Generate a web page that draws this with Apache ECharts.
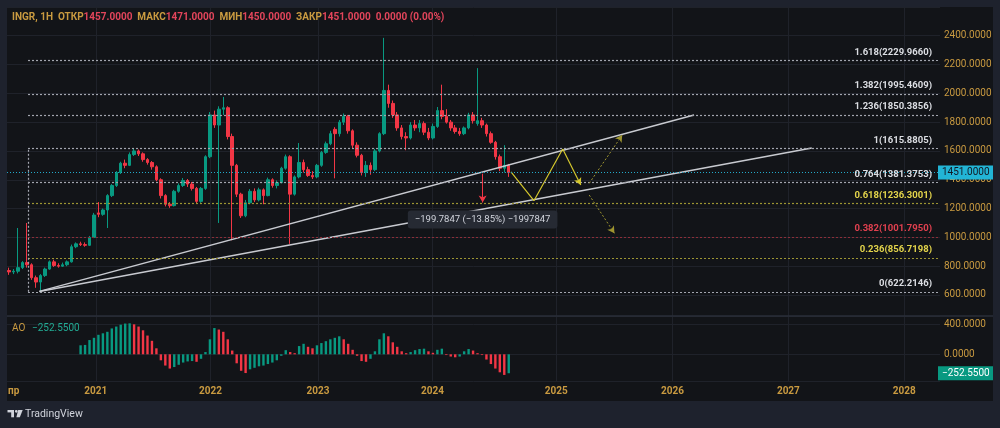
<!DOCTYPE html>
<html>
<head>
<meta charset="utf-8">
<title>INGR 1H</title>
<script src="https://cdn.jsdelivr.net/npm/echarts@6.0.0/dist/echarts.min.js"></script>
<style>
html, body { margin: 0; padding: 0; background: #1e222d; }
#chart { width: 1000px; height: 428px; }
</style>
</head>
<body>
<div id="chart"></div>
<script>
// bars, one every two weeks: [open, close, low, high]
var ohlc = [
  [770, 760, 740, 790], [760, 765, 745, 780], [765, 790, 750, 1065], [790, 825, 780, 835],
  [825, 810, 790, 1100], [810, 720, 705, 820], [720, 690, 650, 735], [690, 735, 622, 745],
  [735, 780, 725, 790], [780, 830, 775, 840], [830, 805, 795, 845], [805, 800, 790, 820],
  [800, 810, 795, 825], [810, 830, 800, 840], [830, 935, 825, 950], [935, 955, 925, 965],
  [955, 950, 940, 970], [950, 945, 935, 965], [945, 1000, 940, 1010], [1000, 1155, 995, 1170],
  [1170, 1160, 1140, 1245], [1160, 1190, 1150, 1200], [1190, 1290, 1065, 1300], [1290, 1360, 1280, 1370],
  [1360, 1450, 1350, 1460], [1450, 1515, 1440, 1525], [1515, 1500, 1480, 1540], [1500, 1575, 1495, 1590],
  [1575, 1600, 1565, 1616], [1600, 1580, 1565, 1610], [1580, 1540, 1525, 1590], [1540, 1520, 1505, 1550],
  [1520, 1490, 1470, 1530], [1490, 1400, 1390, 1500], [1400, 1290, 1270, 1410], [1290, 1230, 1215, 1300],
  [1230, 1220, 1205, 1245], [1220, 1320, 1215, 1330], [1320, 1360, 1310, 1375], [1360, 1395, 1350, 1412],
  [1395, 1370, 1350, 1405], [1370, 1340, 1325, 1385], [1340, 1250, 1235, 1350], [1250, 1340, 1240, 1350],
  [1340, 1560, 1330, 1570], [1560, 1850, 1550, 1870], [1850, 1780, 1760, 1880], [1780, 1890, 1100, 1910],
  [1890, 1900, 1850, 1975], [1900, 1700, 1680, 1910], [1700, 1500, 980, 1720], [1500, 1300, 1280, 1510],
  [1300, 1150, 1135, 1310], [1150, 1240, 1140, 1260], [1240, 1320, 1230, 1335], [1320, 1260, 1245, 1340],
  [1260, 1330, 1250, 1345], [1330, 1290, 1230, 1340], [1290, 1400, 1285, 1415], [1400, 1360, 1345, 1410],
  [1360, 1380, 1340, 1395], [1380, 1480, 1375, 1490], [1480, 1560, 1470, 1575], [1560, 1300, 955, 1570],
  [1300, 1420, 1290, 1430], [1420, 1520, 1410, 1655], [1520, 1470, 1450, 1540], [1470, 1430, 1420, 1490],
  [1430, 1420, 1405, 1460], [1420, 1500, 1410, 1510], [1500, 1590, 1490, 1600], [1590, 1650, 1580, 1665],
  [1650, 1720, 1640, 1740], [1750, 1720, 1410, 1765], [1720, 1800, 1700, 1815], [1800, 1840, 1780, 1860],
  [1840, 1740, 1720, 1850], [1740, 1640, 1620, 1750], [1640, 1570, 1555, 1660], [1570, 1450, 1430, 1580],
  [1450, 1500, 1420, 1530], [1500, 1470, 1435, 1520], [1470, 1600, 1460, 1615], [1600, 1720, 1590, 1730],
  [1720, 2020, 1710, 2385], [2020, 1930, 1900, 2060], [1930, 1850, 1830, 1950], [1850, 1760, 1740, 1870],
  [1760, 1700, 1680, 1780], [1700, 1690, 1605, 1730], [1690, 1780, 1680, 1800], [1780, 1760, 1740, 1815],
  [1760, 1790, 1730, 1815], [1790, 1730, 1710, 1805], [1730, 1690, 1675, 1760], [1690, 1770, 1680, 1790],
  [1770, 1880, 1760, 1905], [1880, 1840, 1820, 2060], [1840, 1800, 1790, 1890], [1800, 1760, 1740, 1815],
  [1760, 1735, 1720, 1780], [1735, 1720, 1705, 1760], [1720, 1760, 1710, 1770], [1760, 1850, 1750, 1865],
  [1850, 1810, 1790, 1870], [1790, 1810, 1775, 2175], [1810, 1780, 1760, 1830], [1780, 1720, 1700, 1790],
  [1720, 1660, 1650, 1735], [1660, 1560, 1540, 1670], [1560, 1480, 1460, 1575], [1480, 1500, 1450, 1640],
  [1500, 1451, 1420, 1510]
];

// awesome oscillator, starts at bar 16
var aoFirstBar = 16;
var aoValues = [
  120, 125, 190, 220, 260, 280, 300, 345, 370, 395,
  410, 413, 400, 370, 320, 250, 180, 80, -80, -150,
  -190, -170, -140, -110, -95, -90, -100, -60, 30, 200,
  350, 330, 300, 200, 50, -120, -220, -250, -200, -180,
  -160, -150, -130, -110, -80, -20, 55, 30, 15, 110,
  140, 100, 80, 120, 150, 175, 200, 220, 240, 200,
  140, 60, -20, -90, -100, -60, 40, 200, 280, 240,
  160, 100, 40, 15, 30, 55, 70, 75, 40, 20,
  60, 75, -10, -30, -40, -30, 40, 70, 50, 15,
  -10, -70, -130, -190, -240, -275, -252.55
];

// x unit = weeks from the first bar
var yearTicks = [38.8, 90.3, 138.5, 189.8, 245.3, 297.4, 349.4, 401.4];
var yearLabels = ['2021', '2022', '2023', '2024', '2025', '2026', '2027', '2028'];

var fibRatios = ['0', '0.236', '0.382', '0.618', '0.764', '1', '1.236', '1.382', '1.618'];
var fibValues = [622.2146, 856.7198, 1001.7950, 1236.3001, 1381.3753, 1615.8805, 1850.3856, 1995.4609, 2229.9660];
var fibFrom = 8.42, fibTo = 416.5;

var lastPrice = 1451;
var lastAO = -252.55;
var legendKeys = ['ОТКР', 'МАКС', 'МИН', 'ЗАКР'];
var legendVals = ['1457.0000', '1471.0000', '1450.0000', '1451.0000'];

// drawings
var trendUpper = [[13.5, 625], [307.1, 1849.6]];
var trendLower = [[13.5, 625], [359.9, 1620.5]];
var projection = [[225, 1455], [235.3, 1254.6], [248.2, 1613.5], [256.3, 1363.6]];
var projUp = [[260.1, 1375.4], [274.9, 1710.7]];
var projDown = [[260.1, 1294], [271.4, 1028.3]];
var rangeArrow = [[212.3, 1442], [212.3, 1242.2]];
var rangeText = '−199.7847 (−13.85%) −1997847';

var GOLD = '#c99a40';
var UP = '#089981', DOWN = '#f23645';
var GRIDC = '#1f222a';
var FONT = 'Roboto, sans-serif';

var candles = ohlc.map(function (r, i) { return [i * 2, r[0], r[1], r[2], r[3]]; });

var aoBars = aoValues.map(function (v, k) {
  var up = k === 0 || v >= aoValues[k - 1];
  return { value: [(aoFirstBar + k) * 2, v], itemStyle: { color: up ? UP : DOWN } };
});

function fibColor(r) {
  if (r === '0.618' || r === '0.236') return { line: '#9c9533', text: '#e3d44b' };
  if (r === '0.382') return { line: '#8c2f39', text: '#e0404f' };
  return { line: '#a3a6af', text: '#dcdee3' };
}

var fibLines = fibRatios.map(function (r, i) {
  var c = fibColor(r);
  return [{
    coord: [fibFrom, fibValues[i]],
    lineStyle: { color: c.line, type: [2, 2], width: 1.2 },
    label: {
      show: true, position: 'insideEndTop', distance: [6, 3],
      formatter: r + '(' + fibValues[i].toFixed(4) + ')',
      color: c.text, fontSize: 9.5, fontWeight: 'bold', fontFamily: FONT
    }
  }, { coord: [fibTo, fibValues[i]] }];
});
fibLines.push([{
  coord: [fibFrom, fibValues[0]],
  lineStyle: { color: '#a3a6af', type: [2, 2], width: 1.2 },
  label: { show: false }
}, { coord: [fibFrom, fibValues[5]] }]);

var legendText = '{g|INGR, 1H}';
legendKeys.forEach(function (k, i) {
  legendText += '{g|  ' + k + '}{r|' + legendVals[i] + '}';
});
legendText += '{r|  0.0000 (0.00%)}';

function nearestYear(v) {
  var best = 0;
  yearTicks.forEach(function (t, i) { if (Math.abs(t - v) < Math.abs(yearTicks[best] - v)) best = i; });
  return yearLabels[best];
}

var xCommon = {
  type: 'value', min: -1, max: 417.4,
  axisLine: { show: false },
  axisTick: { show: false, customValues: yearTicks },
  splitLine: { show: true, lineStyle: { color: GRIDC, width: 1 } }
};

var chart = echarts.init(document.getElementById('chart'));
chart.setOption({
  animation: false,
  backgroundColor: '#121418',
  title: {
    left: 12, top: 12, padding: 0,
    text: legendText,
    textStyle: {
      fontSize: 10, fontFamily: FONT,
      rich: {
        g: { color: GOLD, fontSize: 10, fontFamily: FONT },
        r: { color: '#e2455b', fontSize: 10, fontFamily: FONT }
      }
    }
  },
  grid: [
    { left: 7, right: 60, top: 7, height: 309, outerBoundsMode: 'none' },
    { left: 7, right: 60, top: 316, height: 65, outerBoundsMode: 'none' }
  ],
  xAxis: [
    Object.assign({ gridIndex: 0, axisLabel: { show: false } }, xCommon),
    Object.assign({
      gridIndex: 1,
      axisLabel: {
        show: true, customValues: yearTicks, margin: 5,
        color: GOLD, fontSize: 10, fontWeight: 'bold', fontFamily: FONT,
        formatter: nearestYear
      }
    }, xCommon)
  ],
  yAxis: [{
    gridIndex: 0, type: 'value', position: 'right',
    min: 454.2, max: 2599.3, splitNumber: 10, minInterval: 200, maxInterval: 200,
    axisLine: { show: false }, axisTick: { show: false },
    axisLabel: {
      margin: 4, color: GOLD, fontSize: 10, fontFamily: FONT,
      formatter: function (v) { return Math.abs(v % 200) < 1e-6 ? v.toFixed(4) : ''; }
    },
    splitLine: { lineStyle: { color: GRIDC } }
  }, {
    gridIndex: 1, type: 'value', position: 'right',
    min: -356, max: 510.7, splitNumber: 2, minInterval: 400, maxInterval: 400,
    axisLine: { show: false }, axisTick: { show: false },
    axisLabel: {
      margin: 4, color: GOLD, fontSize: 10, fontFamily: FONT,
      formatter: function (v) { return Math.abs(v % 400) < 1e-6 ? v.toFixed(4) : ''; }
    },
    splitLine: { lineStyle: { color: GRIDC } }
  }],
  series: [{
    name: 'INGR', type: 'candlestick', xAxisIndex: 0, yAxisIndex: 0,
    data: candles, encode: { x: 0, y: [1, 2, 3, 4] }, barWidth: 3,
    itemStyle: { color: UP, color0: DOWN, borderColor: UP, borderColor0: DOWN, borderWidth: 1 },
    markLine: {
      silent: true, symbol: 'none', animation: false,
      data: [{
        yAxis: lastPrice,
        lineStyle: { color: '#23a9c9', type: [1, 2], width: 1 },
        label: {
          show: true, position: 'end', distance: -2,
          formatter: lastPrice.toFixed(4),
          backgroundColor: '#22b5d6', color: '#131722', padding: [2, 4],
          fontSize: 10, fontFamily: FONT
        }
      }]
    }
  }, {
    name: 'fib', type: 'line', data: [], xAxisIndex: 0, yAxisIndex: 0,
    markLine: { silent: true, symbol: 'none', animation: false, data: fibLines }
  }, {
    name: 'trendUpper', type: 'line', data: trendUpper, symbol: 'none',
    lineStyle: { color: '#c8cad0', width: 1.5 }
  }, {
    name: 'trendLower', type: 'line', data: trendLower, symbol: 'none',
    lineStyle: { color: '#c8cad0', width: 1.5 }
  }, {
    name: 'projection', type: 'line', data: projection.slice(0, 3), symbol: 'none',
    lineStyle: { color: '#d4c72d', width: 1.2 }
  }, {
    name: 'arrows', type: 'line', data: [],
    markLine: {
      silent: true, symbol: ['none', 'arrow'], symbolSize: [6, 7], animation: false,
      label: { show: false },
      data: [
        [{ coord: projection[2], lineStyle: { color: '#d4c72d', width: 1.2, type: 'solid' } }, { coord: projection[3] }],
        [{ coord: projUp[0], lineStyle: { color: '#9e9530', width: 1, type: [2, 2] } }, { coord: projUp[1] }],
        [{ coord: projDown[0], lineStyle: { color: '#9e9530', width: 1, type: [2, 2] } }, { coord: projDown[1] }],
        [{ coord: rangeArrow[0], lineStyle: { color: DOWN, width: 1, type: 'solid' } }, { coord: rangeArrow[1] }]
      ]
    },
    markPoint: {
      silent: true, symbol: 'rect', symbolSize: 0, animation: false,
      data: [{
        coord: rangeArrow[1],
        label: {
          show: true, position: 'inside', offset: [0, 17],
          formatter: rangeText,
          backgroundColor: '#262a33', borderRadius: 3, padding: [4, 7],
          color: '#d1d4dc', fontSize: 9.5, fontFamily: FONT
        }
      }]
    }
  }, {
    name: 'AO', type: 'bar', xAxisIndex: 1, yAxisIndex: 1,
    data: aoBars, barWidth: 2.4,
    markLine: {
      silent: true, symbol: 'none', animation: false,
      data: [{
        yAxis: lastAO,
        lineStyle: { color: 'rgba(0,0,0,0)' },
        label: {
          show: true, position: 'end', distance: -2,
          formatter: '−' + Math.abs(lastAO).toFixed(4),
          backgroundColor: UP, color: '#ffffff', padding: [2, 4],
          fontSize: 10, fontFamily: FONT
        }
      }]
    }
  }],
  graphic: [
    { type: 'rect', z: 100, shape: { x: 0, y: 0, width: 7, height: 428 }, style: { fill: '#1e222d' } },
    { type: 'rect', z: 100, shape: { x: 0, y: 0, width: 1000, height: 7 }, style: { fill: '#1e222d' } },
    { type: 'rect', z: 100, shape: { x: 993, y: 0, width: 7, height: 428 }, style: { fill: '#1e222d' } },
    { type: 'rect', z: 100, shape: { x: 0, y: 401, width: 1000, height: 27 }, style: { fill: '#1e222d' } },
    { type: 'line', z: 100, shape: { x1: 7, y1: 316, x2: 993, y2: 316 }, style: { stroke: '#2a2e39', lineWidth: 1.5 } },
    {
      type: 'text', z: 100, x: 12, y: 328,
      style: {
        text: '{g|AO}  {t|−252.5500}', verticalAlign: 'middle',
        rich: {
          g: { fill: GOLD, fontSize: 10, fontFamily: FONT },
          t: { fill: '#22ab94', fontSize: 10, fontFamily: FONT }
        }
      }
    },
    { type: 'text', z: 100, x: 8, y: 391, style: { text: 'пр', fill: GOLD, font: 'bold 10px Roboto', verticalAlign: 'middle' } },
    { type: 'rect', z: 101, shape: { x: 7.5, y: 410, width: 6.5, height: 2.4 }, style: { fill: '#d1d4dc' } },
    { type: 'rect', z: 101, shape: { x: 11.2, y: 410, width: 2.8, height: 7.3 }, style: { fill: '#d1d4dc' } },
    { type: 'circle', z: 101, shape: { cx: 16.3, cy: 411.3, r: 1.4 }, style: { fill: '#d1d4dc' } },
    { type: 'polygon', z: 101, shape: { points: [[18.2, 410], [22.7, 410], [19.8, 417.3], [16.4, 417.3]] }, style: { fill: '#d1d4dc' } },
    { type: 'text', z: 101, x: 25, y: 414, style: { text: 'TradingView', fill: '#d1d4dc', font: '10.5px Roboto', verticalAlign: 'middle' } }
  ]
});
</script>
</body>
</html>
